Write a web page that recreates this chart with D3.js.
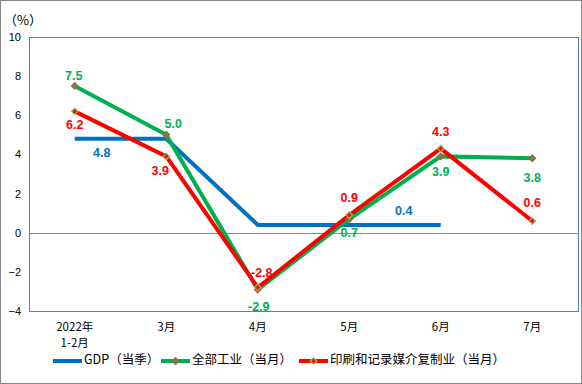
<!DOCTYPE html>
<html>
<head>
<meta charset="utf-8">
<script src="https://cdn.jsdelivr.net/npm/d3@7"></script>
<style>
  body { margin: 0; background: #fff; }
  svg { display: block; font-family: "Noto Sans CJK SC", "Liberation Sans", sans-serif; }
</style>
</head>
<body>
<div id="chart"></div>
<script>
const categories = ["2022年\n1-2月", "3月", "4月", "5月", "6月", "7月"];
const gdp = [4.8, 4.8, 0.4, 0.4, 0.4, null];
const industry = [7.5, 5.0, -2.9, 0.7, 3.9, 3.8];
const printing = [6.2, 3.9, -2.8, 0.9, 4.3, 0.6];
const yTicks = [-4, -2, 0, 2, 4, 6, 8, 10];
const seriesNames = ["GDP（当季）", "全部工业（当月）", "印刷和记录媒介复制业（当月）"];

function main() {
  const W = 582, H = 384;
  const plot = { left: 29, right: 578, top: 37, bottom: 311 };

  const svg = d3.select("#chart").append("svg")
    .attr("width", W).attr("height", H);

  svg.append("rect")
    .attr("x", 0.5).attr("y", 0.5)
    .attr("width", W - 1).attr("height", H - 1)
    .attr("fill", "#fff").attr("stroke", "#878787");

  const x = d3.scaleBand().domain(categories)
    .range([plot.left, plot.right]);
  const cx = (i) => x(categories[i]) + x.bandwidth() / 2;
  const y = d3.scaleLinear().domain([-4, 10]).range([plot.bottom, plot.top]);

  // plot border
  svg.append("rect")
    .attr("x", plot.left + 0.5).attr("y", plot.top + 0.5)
    .attr("width", plot.right - plot.left).attr("height", plot.bottom - plot.top)
    .attr("fill", "none").attr("stroke", "#4f81bd");

  // zero line
  svg.append("line")
    .attr("x1", plot.left).attr("x2", plot.right)
    .attr("y1", Math.round(y(0)) + 0.5).attr("y2", Math.round(y(0)) + 0.5)
    .attr("stroke", "#868686");

  // y axis labels
  const yAxis = d3.axisLeft(y).tickValues(yTicks).tickSize(0).tickPadding(8);
  const yg = svg.append("g").attr("transform", `translate(${plot.left},0)`).call(yAxis);
  yg.select(".domain").remove();
  yg.selectAll("text").attr("font-size", 11).attr("fill", "#000")
    .attr("font-family", "Liberation Sans, sans-serif");

  svg.append("text").attr("x", 4).attr("y", 25)
    .attr("font-size", 13).text("（%）");

  // x labels
  categories.forEach((c, i) => {
    const lines = c.split("\n");
    const t = svg.append("text").attr("text-anchor", "middle")
      .attr("font-size", 11.5).attr("fill", "#000");
    lines.forEach((l, j) => {
      t.append("tspan").attr("x", cx(i)).attr("y", 331 + j * 16).text(l);
    });
  });

  const line = d3.line()
    .defined((d) => d != null)
    .x((d, i) => cx(i))
    .y((d) => y(d));

  const colors = ["#0070c0", "#00b050", "#ff0000"];

  [gdp, industry, printing].forEach((data, k) => {
    svg.append("path").datum(data).attr("d", line)
      .attr("fill", "none").attr("stroke", colors[k]).attr("stroke-width", 4);
  });

  const diamond = d3.symbol().type(d3.symbolDiamond2).size(28);

  function markers(data, fill, stroke) {
    svg.append("g").selectAll("path").data(data).enter().append("path")
      .attr("d", diamond)
      .attr("transform", (d, i) => `translate(${cx(i)},${y(d)})`)
      .attr("fill", fill).attr("stroke", stroke).attr("stroke-width", 1.2);
  }
  markers(industry, "#3aa040", "#c0504d");
  markers(printing, "#ee1111", "#9bbb59");

  // data labels
  const gdpOffsets = [[27, 15], null, null, null, [-37, -13], null];
  const indOffsets = [[-1, -9], [7, -10], [1, 18], [0, 15], [0, 16], [0, 20]];
  const prtOffsets = [[0, 14], [-6, 15], [4, -14], [0, -16], [0, -16], [0, -17]];

  function labels(data, offsets, color) {
    data.forEach((d, i) => {
      if (d == null || offsets[i] == null) return;
      svg.append("text")
        .attr("x", cx(i) + offsets[i][0])
        .attr("y", y(d) + offsets[i][1])
        .attr("text-anchor", "middle")
        .attr("dominant-baseline", "middle")
        .attr("font-family", "Liberation Sans, sans-serif")
        .attr("font-weight", "bold")
        .attr("font-size", 12.5)
        .attr("fill", color)
        .text(d.toFixed(1));
    });
  }
  labels(gdp, gdpOffsets, colors[0]);
  labels(industry, indOffsets, colors[1]);
  labels(printing, prtOffsets, colors[2]);

  // legend
  const legendX = [53, 161, 299];
  const ly = 361;
  seriesNames.forEach((name, i) => {
    const g = svg.append("g");
    g.append("line").attr("x1", legendX[i]).attr("x2", legendX[i] + 29)
      .attr("y1", ly).attr("y2", ly)
      .attr("stroke", colors[i]).attr("stroke-width", 4);
    if (i > 0) {
      g.append("path").attr("d", diamond)
        .attr("transform", `translate(${legendX[i] + 14.5},${ly})`)
        .attr("fill", i === 1 ? "#3aa040" : "#ee1111")
        .attr("stroke", i === 1 ? "#c0504d" : "#9bbb59")
        .attr("stroke-width", 1.2);
    }
    g.append("text").attr("x", legendX[i] + 31).attr("y", ly)
      .attr("dominant-baseline", "middle")
      .attr("font-size", 12.5).attr("fill", "#000").text(name);
  });
}

main();
</script>
</body>
</html>
